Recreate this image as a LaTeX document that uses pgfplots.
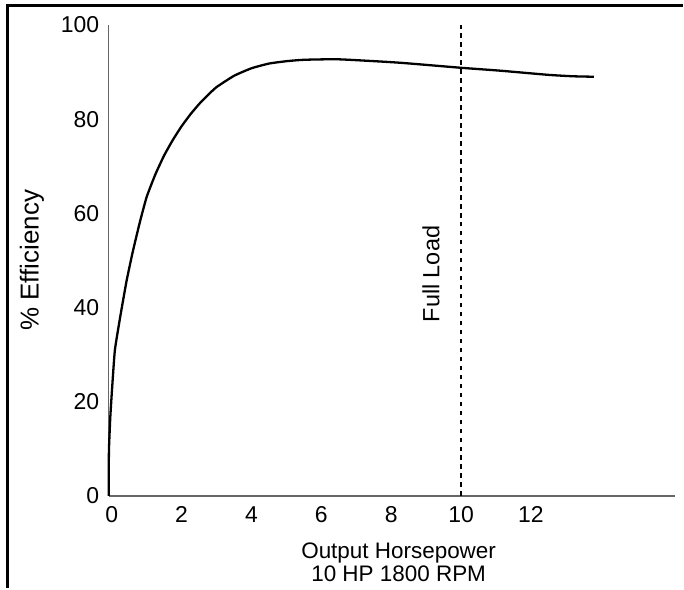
\documentclass[border=0pt]{standalone}
\usepackage{pgfplots}
\pgfplotsset{compat=1.18}
\usepackage{fontspec}
\setmainfont{Liberation Sans}
\begin{document}
\begin{tikzpicture}
\begin{axis}[
  scale only axis,
  width=567pt, height=472pt,
  xmin=-0.086, xmax=16.11,
  ymin=0, ymax=100,
  axis x line*=bottom,
  axis y line*=left,
  axis line style={draw=black!60, line width=1.4pt},
  xtick={0,2,4,6,8,10,12},
  ytick={0,20,40,60,80,100},
  major tick length=0pt,
  /pgf/number format/assume math mode=true,
  tick label style={font=\fontsize{23}{26}\selectfont},
  xticklabel style={yshift=-7pt},
  yticklabel style={xshift=-6pt},
  xlabel={Output Horsepower\\10 HP 1800 RPM},
  xlabel style={font=\fontsize{22.5}{23}\selectfont, align=center, yshift=-13pt, xshift=7pt},
  ylabel={\% Efficiency},
  ylabel style={font=\fontsize{26}{30}\selectfont, yshift=10pt},
  clip=false,
]
\addplot[black, line width=2.3pt, smooth, tension=0.3] coordinates {
(-0.086,0) (-0.086,5) (-0.08,10) (-0.04,17) (0.02,24) (0.09,31) (0.23,37.5) (0.42,45.5)
(0.6,51.8) (0.8,58) (1.0,63.5) (1.25,68.3) (1.5,72.3) (1.75,75.6) (2.0,78.5) (2.25,81.0)
(2.5,83.2) (2.75,85.1) (3.0,86.8) (3.5,89.2) (4.0,90.8) (4.5,91.8) (5.0,92.3) (5.5,92.6)
(6.5,92.7) (8.2,92.0) (10,90.9) (11.1,90.3) (12.5,89.4) (13.2,89.1) (13.8,89.0)
};
\addplot[black, line width=2.3pt, dash pattern=on 4.5pt off 4.5pt] coordinates {(10,0) (10,100)};
\node[rotate=90, font=\fontsize{23.5}{26}\selectfont] at (axis cs:9.14,47.1) {Full Load};
\coordinate (O) at (rel axis cs:0,0);
\end{axis}
\draw[black, line width=3pt] ([xshift=-101pt,yshift=-92pt]O) -- ([xshift=-101pt,yshift=491pt]O) -- ([xshift=575pt,yshift=491pt]O);
\path[use as bounding box] ([xshift=-109pt,yshift=-92pt]O) rectangle ([xshift=575pt,yshift=497pt]O);
\end{tikzpicture}
\end{document}
